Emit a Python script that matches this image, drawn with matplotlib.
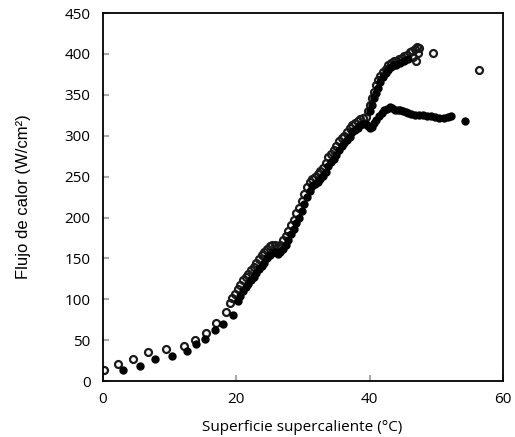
import matplotlib
matplotlib.use("Agg")
import matplotlib.pyplot as plt

plt.rcParams['font.family'] = ['Open Sans', 'DejaVu Sans']

# Hollow-circle series
open_x = [0.2, 2.3, 4.5, 6.8, 9.5, 12.2, 13.8, 15.5, 17.0, 18.5,
          19.0, 19.4, 19.8, 20.2, 20.6, 21.0, 21.4, 21.8, 22.2, 22.6, 23.0, 23.4, 23.8,
          24.2, 24.6, 25.0, 25.4, 25.8, 26.2, 26.6, 27.0, 27.4, 27.8, 28.2, 28.6, 29.0,
          29.4, 29.8, 30.2, 30.6, 31.0, 31.4, 31.8, 32.2, 32.6, 33.0, 33.4, 33.8, 34.2,
          34.6, 35.0, 35.4, 35.8, 36.2, 36.6, 37.0, 37.4, 37.8, 38.2, 38.6, 39.0, 39.4,
          39.8, 40.1, 40.4, 40.7, 41.0, 41.3, 41.6, 42.0, 42.4, 42.8, 43.2, 43.6, 44.0,
          44.4, 44.8, 45.2, 45.6, 46.0, 46.4, 46.8, 47.1, 47.4, 46.5, 47.0, 47.3, 49.5, 56.4]
open_y = [14, 21, 27, 35, 39, 43, 50, 59, 71, 85,
          96, 101, 107, 113, 118, 123, 127, 131, 136, 140, 145, 149, 154,
          158, 162, 165, 166, 166, 164, 167, 172, 178, 184, 191, 197, 205,
          212, 220, 229, 237, 243, 247, 250, 253, 257, 261, 267, 274, 278,
          282, 287, 293, 297, 300, 304, 309, 313, 316, 318, 321, 322, 323,
          330, 338, 346, 354, 362, 368, 373, 378, 382, 386, 389, 391, 392,
          394, 395, 397, 399, 402, 404, 406, 408, 407, 396, 392, 401, 401, 380]

# Filled-dot series
fill_x = [3.0, 5.5, 7.8, 10.3, 12.6, 14.0, 15.3, 16.8, 18.0, 19.5,
          20.2, 20.6, 21.0, 21.4, 21.8, 22.2, 22.6, 23.0, 23.4, 23.8, 24.2, 24.6, 25.0,
          25.4, 25.8, 26.2, 26.6, 27.0, 27.4, 27.8, 28.2, 28.6, 29.0, 29.4, 29.8, 30.2,
          30.6, 31.0, 31.4, 31.8, 32.2, 32.6, 33.0, 33.4, 33.8, 34.2, 34.6, 35.0, 35.4,
          35.8, 36.2, 36.6, 37.0, 37.4, 37.8, 38.2, 38.6, 39.0, 39.4,
          40.0, 40.3, 40.6, 40.9, 41.2, 41.6, 42.0, 42.4, 42.8, 43.2, 43.6, 44.0, 44.6,
          45.2, 45.8,
          39.8, 40.1, 40.4, 40.7, 41.0, 41.4, 41.8, 42.2, 42.6, 43.0, 43.4, 43.8, 44.2,
          44.6, 45.0, 45.4, 45.8, 46.2, 46.8, 47.4, 48.0, 48.6, 49.2, 49.8, 50.4, 51.2,
          51.8, 52.2, 54.3]
fill_y = [14, 18, 27, 31, 37, 45, 52, 62, 70, 81,
          98, 104, 110, 115, 119, 123, 127, 132, 137, 141, 145, 150, 154,
          157, 158, 156, 158, 162, 167, 173, 180, 186, 193, 200, 208, 217,
          225, 233, 238, 241, 244, 247, 251, 256, 263, 268, 272, 277, 283,
          287, 291, 295, 299, 304, 307, 310, 313, 314, 314,
          330, 338, 346, 352, 358, 366, 372, 377, 381, 384, 386, 387, 389,
          391, 394,
          312, 309, 311, 315, 319, 324, 328, 331, 333, 335, 334, 332, 331,
          331, 330, 329, 328, 327, 326, 325, 325, 324, 324, 323, 322, 322,
          323, 324, 318]

x_ticks = [0, 20, 40, 60]
y_ticks = [0, 50, 100, 150, 200, 250, 300, 350, 400, 450]

fig = plt.figure(figsize=(5.15, 4.37), dpi=100)
ax = fig.add_axes([0.2, 0.128, 0.7767, 0.842])

ax.plot(open_x, open_y, linestyle='none', marker='o', markersize=5.0,
        markerfacecolor='none', markeredgecolor='#1a1a1a', markeredgewidth=1.6)
ax.plot(fill_x, fill_y, linestyle='none', marker='o', markersize=5.0,
        markerfacecolor='black', markeredgecolor='black')

ax.set_xlim(0, 60)
ax.set_ylim(0, 450)
ax.set_xticks(x_ticks)
ax.set_yticks(y_ticks)
ax.tick_params(direction='in', length=4, width=1.5, color='#aaaaaa', labelsize=11)
ax.tick_params(axis='y', pad=9)
ax.tick_params(axis='x', pad=8)
for s in ax.spines.values():
    s.set_linewidth(1.3)
    s.set_color('black')

ax.set_xlabel('Superficie supercaliente (°C)', fontsize=11)
ax.xaxis.set_label_coords(0.4975, -0.105)
ax.set_ylabel('Flujo de calor (W/cm²)', fontsize=12,
              family=['Liberation Sans', 'DejaVu Sans'])
ax.yaxis.set_label_coords(-0.18, 0.5)

fig.savefig('out.png', dpi=100)
